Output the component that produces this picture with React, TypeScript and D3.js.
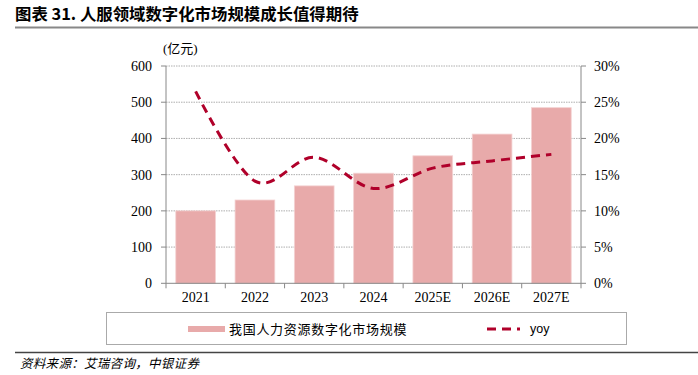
import React from "react";
import * as d3 from "d3";

const categories = ["2021", "2022", "2023", "2024", "2025E", "2026E", "2027E"];
const marketSize = [200, 230, 269, 304, 352, 412, 485];
const yoy = [26.5, 14.1, 17.4, 13.1, 15.9, 16.9, 17.8];
const leftTicks = [0, 100, 200, 300, 400, 500, 600];
const rightTicks = [0, 5, 10, 15, 20, 25, 30];

const W = 698;
const H = 375;
const M = { left: 166, right: 581, top: 66, bottom: 283.3 };
const BAR_COLOR = "#E8AAAA";
const LINE_COLOR = "#B0002A";
const SERIF = "'Liberation Serif', 'Times New Roman', 'Noto Sans CJK SC', serif";

export default function App() {
  const x = d3.scaleBand<string>().domain(categories).range([M.left, M.right]).paddingInner(0.33).paddingOuter(0.165);
  const xOuter = d3.scaleBand<string>().domain(categories).range([M.left, M.right]);
  const yL = d3.scaleLinear().domain([0, 600]).range([M.bottom, M.top]);
  const yR = d3.scaleLinear().domain([0, 30]).range([M.bottom, M.top]);
  const line = d3
    .line<number>()
    .x((_, i) => (xOuter(categories[i]) as number) + xOuter.bandwidth() / 2)
    .y((d) => yR(d))
    .curve(d3.curveCardinal.tension(0));
  const boundaries = categories.map((c) => xOuter(c) as number).concat([M.right]);

  return (
    <svg width={W} height={H} style={{ position: "absolute", left: 0, top: 0, background: "#fff" }}>
      {/* title */}
      <text x={15} y={20} fontFamily="'Noto Sans CJK SC', sans-serif" fontWeight="bold" fontSize={16.4} fill="#000">
        图表 31. 人服领域数字化市场规模成长值得期待
      </text>
      <line x1={15} x2={698} y1={27.5} y2={27.5} stroke="#888" strokeWidth={2} />

      {/* unit */}
      <text x={163} y={53} fontFamily={SERIF} fontSize={13} fill="#000">(亿元)</text>

      {/* gridlines */}
      {leftTicks.slice(1).map((t) => (
        <line key={"g" + t} x1={M.left} x2={M.right} y1={yL(t)} y2={yL(t)} stroke="#999" strokeWidth={0.8} strokeDasharray="1.5,1" />
      ))}

      {/* bars */}
      {categories.map((c, i) => (
        <rect key={c} x={x(c)} y={yL(marketSize[i])} width={x.bandwidth()} height={M.bottom - yL(marketSize[i])} fill={BAR_COLOR} stroke="#F4D2D2" strokeWidth={0.8} />
      ))}

      {/* axes */}
      <line x1={M.left} x2={M.left} y1={M.top} y2={M.bottom} stroke="#888" strokeWidth={1} />
      <line x1={M.right} x2={M.right} y1={M.top} y2={M.bottom} stroke="#888" strokeWidth={1} />
      <line x1={M.left} x2={M.right} y1={M.bottom} y2={M.bottom} stroke="#888" strokeWidth={1} />
      {leftTicks.map((t) => (
        <g key={"l" + t}>
          <line x1={M.left - 5} x2={M.left} y1={yL(t)} y2={yL(t)} stroke="#888" />
          <text x={M.left - 14} y={yL(t)} dy="0.35em" textAnchor="end" fontFamily={SERIF} fontSize={14} fill="#000">{t}</text>
        </g>
      ))}
      {rightTicks.map((t) => (
        <g key={"r" + t}>
          <line x1={M.right} x2={M.right + 5} y1={yR(t)} y2={yR(t)} stroke="#888" />
          <text x={M.right + 13} y={yR(t)} dy="0.35em" textAnchor="start" fontFamily={SERIF} fontSize={14} fill="#000">{t}%</text>
        </g>
      ))}
      {boundaries.map((b, i) => (
        <line key={"b" + i} x1={b} x2={b} y1={M.bottom} y2={M.bottom + 5} stroke="#888" />
      ))}
      {categories.map((c) => (
        <text key={"x" + c} x={(xOuter(c) as number) + xOuter.bandwidth() / 2} y={297} dy="0.35em" textAnchor="middle" fontFamily={SERIF} fontSize={14} fill="#000">{c}</text>
      ))}

      {/* yoy line */}
      <path d={line(yoy) || ""} fill="none" stroke={LINE_COLOR} strokeWidth={3} strokeDasharray="9,6" />

      {/* legend */}
      <rect x={106.5} y={312.5} width={520} height={32} fill="#fff" stroke="#aaa" strokeWidth={1} />
      <rect x={188} y={326} width={37} height={6} fill={BAR_COLOR} />
      <text x={229} y={329} dy="0.35em" fontFamily="'Noto Sans CJK SC', serif" fontSize={13} letterSpacing={0.7} fill="#000">我国人力资源数字化市场规模</text>
      <line x1={487} x2={520} y1={329} y2={329} stroke={LINE_COLOR} strokeWidth={3} strokeDasharray="9,6" />
      <text x={530} y={329} dy="0.35em" fontFamily="'Liberation Sans', Arial, sans-serif" fontSize={12.5} fill="#000">yoy</text>

      {/* source */}
      <line x1={15} x2={698} y1={352.5} y2={352.5} stroke="#444" strokeWidth={1.3} />
      <text x={20} y={364} dy="0.35em" fontFamily="'Noto Sans CJK SC', serif" fontStyle="italic" fontSize={12.5} letterSpacing={0.3} fill="#000">资料来源：艾瑞咨询，中银证券</text>
    </svg>
  );
}
